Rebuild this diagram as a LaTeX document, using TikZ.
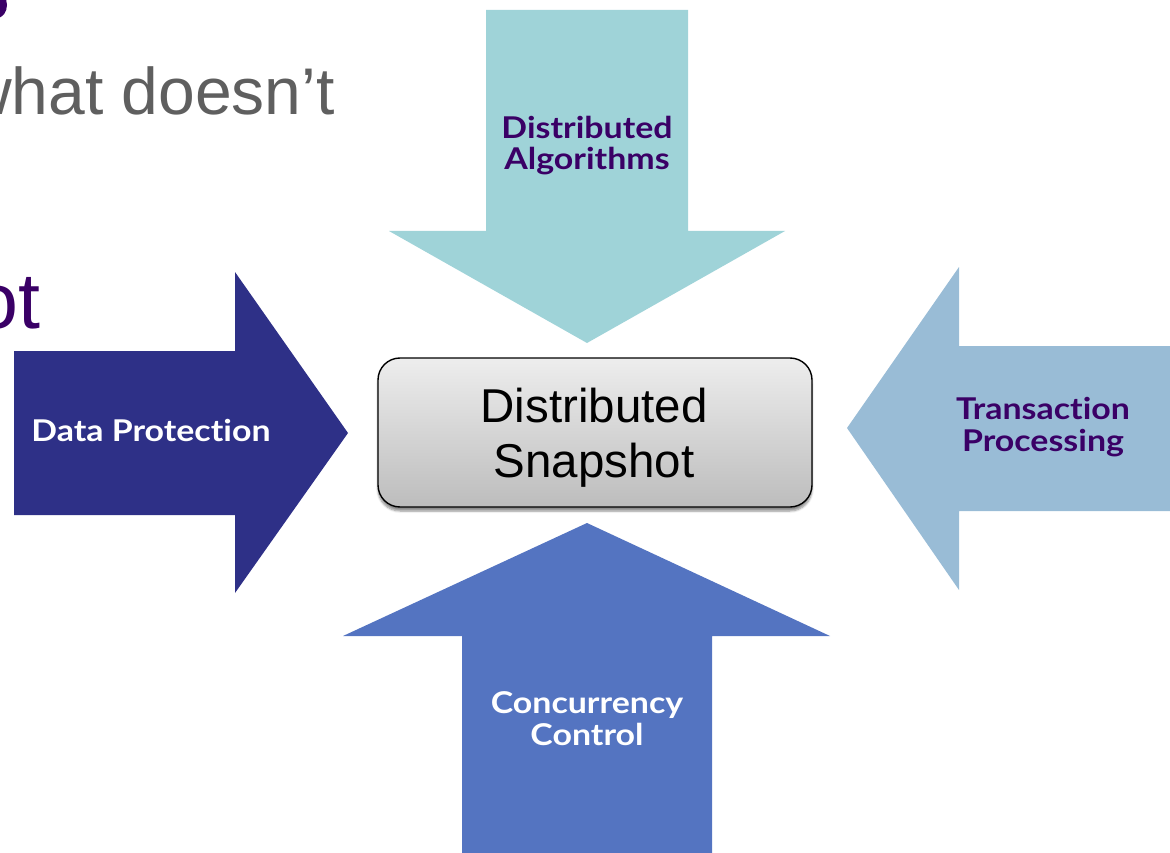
\documentclass[tikz,border=0pt]{standalone}
\usepackage{fontspec}
\setmainfont{Liberation Sans}
\newfontfamily\labelfont{Lato}[Ligatures=NoCommon, FakeStretch=1.13]
\usetikzlibrary{shadows.blur}
\definecolor{teal1}{HTML}{9FD3D8}
\definecolor{navy1}{HTML}{2E3087}
\definecolor{sky1}{HTML}{99BCD6}
\definecolor{blue1}{HTML}{5474C1}
\definecolor{plum1}{HTML}{3A0066}
\definecolor{gray1}{HTML}{5F5F5F}
\tikzset{
  arrowlabel/.style={font=\labelfont\bfseries\fontsize{30}{31.5}\selectfont, align=center, anchor=base, inner sep=0pt},
  hubbox/.style={draw=black, line width=1.4pt, rounded corners=22pt, top color=white!93!black, bottom color=white!74!black,
    blur shadow={shadow xshift=0pt, shadow yshift=-4pt, shadow blur steps=6, shadow opacity=45}},
}
\begin{document}
\begin{tikzpicture}[x=1pt, y=-1pt]
\useasboundingbox (0,0) rectangle (1170,853);
\clip (0,0) rectangle (1170,853);

% slide text running in from the left edge
\fill[plum1] (-3,5) ellipse [x radius=10, y radius=13];
\node[anchor=base east, inner sep=0pt, text=gray1, font=\fontsize{66}{70}\selectfont] (l1) at (335,115) {what doesn’t};
\node[anchor=base east, inner sep=0pt, text=plum1, font=\fontsize{79}{84}\selectfont] (l2) at (41,328) {ot};

% four block arrows pointing at the hub
\fill[teal1] (486,10) -- (688,10) -- (688,231) -- (785,231) -- (587,343) -- (389,231) -- (486,231) -- cycle;
\fill[navy1] (14,351) -- (235,351) -- (235,272) -- (348,433) -- (235,593) -- (235,515) -- (14,515) -- cycle;
\fill[sky1] (1170,346) -- (959,346) -- (959,267) -- (847,428) -- (959,590) -- (959,511) -- (1170,511) -- cycle;
\fill[blue1] (462,853) -- (462,636) -- (343,636) -- (587,523) -- (830,636) -- (712,636) -- (712,853) -- cycle;

% central hub (base anchor sits on the last line)
\path[hubbox] (378,358) rectangle (812,507);
\node[anchor=base, inner sep=0pt, align=center, font=\fontsize{47.5}{55}\selectfont] (hub) at (594,477) {Distributed\\Snapshot};

% arrow labels
\node[arrowlabel, text=plum1] (top) at (587,170) {Distributed\\Algorithms};
\node[arrowlabel, text=white] (left) at (151,441) {Data Protection};
\node[arrowlabel, text=plum1] (right) at (1043,451) {Transaction\\Processing};
\node[arrowlabel, text=white] (bottom) at (587,745) {Concurrency\\Control};
\end{tikzpicture}
\end{document}
